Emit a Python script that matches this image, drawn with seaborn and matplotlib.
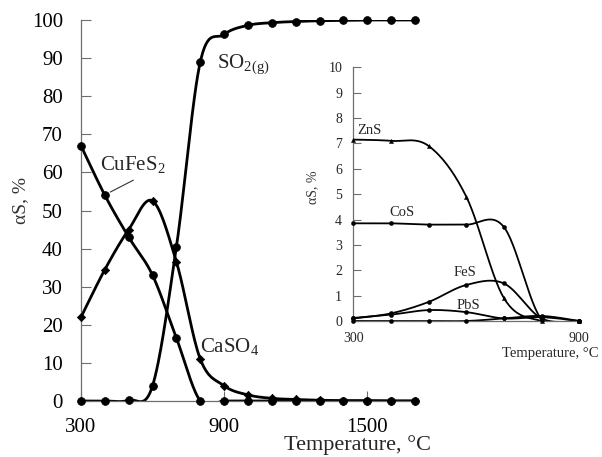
import numpy as np
import pandas as pd
import matplotlib
matplotlib.use("Agg")
import matplotlib.pyplot as plt
import seaborn as sns

# ---------------- data ----------------
T_main = [300, 400, 500, 600, 700, 800, 900, 1000, 1100, 1200, 1300, 1400, 1500, 1600, 1700]
cufes2 = [67, 54, 43, 33, 16.5, 0, 0, 0, 0, 0, 0, 0, 0, 0, 0]
caso4 = [22, 34.5, 45, 52.5, 36.5, 11, 4, 1.6, 0.7, 0.4, 0.2, 0.1, 0.1, 0, 0]
so2 = [0, 0, 0.2, 4, 40.5, 89, 96.2, 98.6, 99.3, 99.6, 99.8, 99.9, 100, 100, 100]
main_xticks = [300, 900, 1500]
main_yticks = [0, 10, 20, 30, 40, 50, 60, 70, 80, 90, 100]

T_in = [300, 400, 500, 600, 700, 800, 900]
zns = [7.15, 7.1, 6.9, 4.9, 0.9, 0.0, 0.0]
cos_ = [3.85, 3.85, 3.8, 3.8, 3.7, 0.05, 0.0]
fes = [0.1, 0.3, 0.75, 1.42, 1.48, 0.1, 0.0]
pbs = [0.12, 0.25, 0.43, 0.35, 0.1, 0.15, 0.0]
other = [0, 0, 0, 0, 0.1, 0.2, 0.0]
in_xticks = [300, 900]
in_yticks = list(range(0, 11))


def smooth(x, y, n=30):
    """Catmull-Rom (Excel-like) smoothing for display of the line."""
    P = np.column_stack([np.asarray(x, float), np.asarray(y, float)])
    P = np.vstack([P[0], P, P[-1]])
    xs, ys = [], []
    for i in range(1, len(P) - 2):
        p0, p1, p2, p3 = P[i - 1], P[i], P[i + 1], P[i + 2]
        c1 = p1 + (p2 - p0) / 6.0
        c2 = p2 - (p3 - p1) / 6.0
        t = np.linspace(0, 1, n)[:, None]
        b = ((1 - t) ** 3) * p1 + 3 * ((1 - t) ** 2) * t * c1 + 3 * (1 - t) * t ** 2 * c2 + t ** 3 * p2
        xs.append(b[:, 0]); ys.append(b[:, 1])
    return np.concatenate(xs), np.concatenate(ys)


sns.set_style("ticks")
plt.rcParams['font.family'] = ['Liberation Serif', 'DejaVu Serif']
plt.rcParams['mathtext.fontset'] = 'custom'
plt.rcParams['mathtext.rm'] = 'Liberation Serif'
plt.rcParams['mathtext.it'] = 'Liberation Serif:italic'

fig = plt.figure(figsize=(6.02, 4.57), dpi=100)
W, H = 602, 457

# ---------------- main axes ----------------
ax = fig.add_axes([81 / W, 1 - 401 / H, (415 - 81) / W, (401 - 20) / H])
spine_c = '#6e6e6e'

for yv, mk, ms in [(cufes2, 'o', 32), (caso4, 'D', 18), (so2, 'o', 32)]:
    sx, sy = smooth(T_main, yv)
    sns.lineplot(x=sx, y=sy, ax=ax, color='black', linewidth=2.0, sort=False,
                 estimator=None)
    sns.scatterplot(x=T_main, y=yv, ax=ax, marker=mk, s=ms, color='black',
                    edgecolor='black', linewidth=0.5, clip_on=False, zorder=5)

ax.set_xlim(300, 1700)
ax.set_ylim(0, 100)
ax.set_xticks(main_xticks)
ax.set_yticks(main_yticks)
ax.tick_params(axis='both', direction='in', length=7, width=0.8, color=spine_c,
               labelsize=15, labelcolor='black')
ax.tick_params(axis='x', pad=12)
ax.tick_params(axis='y', pad=13)
for s in ['top', 'right']:
    ax.spines[s].set_visible(False)
for s in ['left', 'bottom']:
    ax.spines[s].set_color(spine_c)
    ax.spines[s].set_linewidth(0.9)
ax.set_xlabel('')
ax.set_ylabel('')

ax.text(870, 88.4, r'SO$_{\mathrm{2(g)}}$', fontsize=15, ha='left', va='center')
ax.text(518, 62, r'CuFeS$_2$', fontsize=15, ha='center', va='center')
ax.annotate('', xy=(412, 54.5), xytext=(530, 58.3),
            arrowprops=dict(arrowstyle='-', color='#333333', lw=0.8))
ax.text(799, 14.2, r'CaSO$_4$', fontsize=15, ha='left', va='center')

fig.text(357 / W, 1 - 445 / H, 'Temperature, °C', fontsize=16, ha='center', va='center')
fig.text(21 / W, 1 - 201 / H, 'αS, %', fontsize=14, ha='center', va='center',
         rotation=90, color='#333333')

# ---------------- inset ----------------
ax2 = fig.add_axes([353.3 / W, 1 - 321 / H, (579.3 - 353.3) / W, (321 - 67.3) / H])
ax2.patch.set_alpha(0)
series_in = [(zns, '^', 9), (cos_, 'o', 9), (fes, 'o', 9), (pbs, 'o', 9), (other, 'o', 9)]
for yv, mk, ms in series_in:
    sx, sy = smooth(T_in, yv)
    sns.lineplot(x=sx, y=sy, ax=ax2, color='black', linewidth=1.3, sort=False,
                 estimator=None)
    sns.scatterplot(x=T_in, y=yv, ax=ax2, marker=mk, s=ms, color='black',
                    edgecolor='black', linewidth=0.3, clip_on=False, zorder=5)
ax2.set_xlim(300, 900)
ax2.set_ylim(0, 10)
ax2.set_xticks(in_xticks)
ax2.set_yticks(in_yticks)
ax2.tick_params(axis='y', direction='in', length=6, width=0.8, color=spine_c,
                labelsize=10, pad=8)
ax2.tick_params(axis='x', length=0, labelsize=10, pad=8)
for s in ['top', 'right']:
    ax2.spines[s].set_visible(False)
for s in ['left', 'bottom']:
    ax2.spines[s].set_color(spine_c)
    ax2.spines[s].set_linewidth(0.9)
ax2.set_xlabel('')
ax2.set_ylabel('')

ax2.text(310, 7.5, 'ZnS', fontsize=10.5, ha='left', va='center')
ax2.text(397, 4.28, 'CoS', fontsize=10.5, ha='left', va='center')
ax2.text(565, 1.93, 'FeS', fontsize=10.5, ha='left', va='center')
ax2.text(575, 0.63, 'PbS', fontsize=10.5, ha='left', va='center')

fig.text(550 / W, 1 - 353 / H, 'Temperature, °C', fontsize=10.5, ha='center', va='center')
fig.text(313 / W, 1 - 187 / H, 'αS, %', fontsize=10, ha='center', va='center',
         rotation=90, color='#333333')

fig.savefig('out.png', dpi=100)
